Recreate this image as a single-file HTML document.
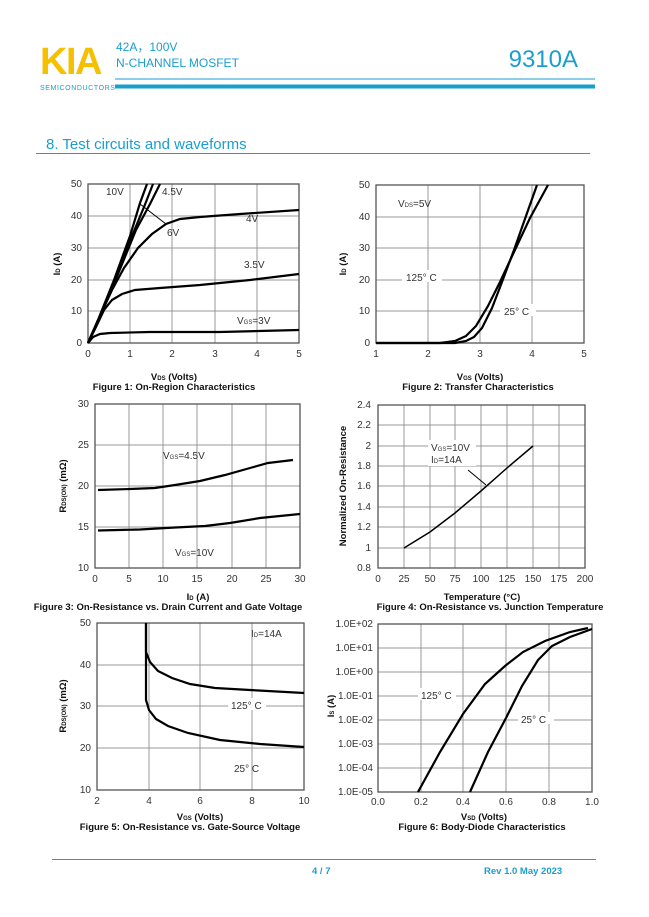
<!DOCTYPE html>
<html><head><meta charset="utf-8"><style>
body{margin:0;background:#fff;}
svg{display:block;font-family:"Liberation Sans",Arial,sans-serif;}
.g{stroke:#999;stroke-width:1;fill:none}
.f{stroke:#555;stroke-width:1.3;fill:none}
.c{stroke:#000;stroke-width:2.2;fill:none}
.t{font-size:10px;fill:#333}
.b{font-size:9.5px;font-weight:bold;fill:#111}
</style></head><body>
<svg width="649" height="917" viewBox="0 0 649 917">
<!-- header -->
<text x="40" y="74" font-size="38" font-weight="bold" fill="#f5c000" letter-spacing="-1.5">KIA</text>
<text x="40" y="90" font-size="7" fill="#1aa0d0" letter-spacing="0.6">SEMICONDUCTORS</text>
<text x="116" y="51" font-size="12" fill="#1a9ed0">42A，100V</text>
<text x="116" y="67" font-size="12" fill="#1a9ed0">N-CHANNEL MOSFET</text>
<text x="578" y="67" font-size="24" fill="#1a9ed0" text-anchor="end">9310A</text>
<line x1="115" y1="79" x2="595" y2="79" stroke="#1a9ed0" stroke-width="1"/>
<line x1="115" y1="86.5" x2="595" y2="86.5" stroke="#1a9ed0" stroke-width="4"/>
<text x="46" y="149" font-size="15" fill="#1a9ed0">8. Test circuits and waveforms</text>
<line x1="36" y1="153.5" x2="590" y2="153.5" stroke="#1a9ed0" stroke-width="1"/>
<!-- footer -->
<line x1="52" y1="859.5" x2="596" y2="859.5" stroke="#1a9ed0" stroke-width="1"/>
<text x="312" y="874" font-size="9.5" font-weight="bold" fill="#1a9ed0">4 / 7</text>
<text x="484" y="874" font-size="9.5" font-weight="bold" fill="#1a9ed0">Rev 1.0    May 2023</text>

<!-- Fig1 -->
<g>
<path class="g" d="M130 184V343M172 184V343M215 184V343M257 184V343M88 216H299M88 248H299M88 280H299M88 311H299"/>
<rect class="f" x="88" y="184" width="211" height="159"/>
<g class="t" text-anchor="end"><text x="82" y="187">50</text><text x="82" y="219">40</text><text x="82" y="251">30</text><text x="82" y="283">20</text><text x="82" y="314">10</text><text x="82" y="346">0</text></g>
<g class="t" text-anchor="middle"><text x="88" y="357">0</text><text x="130" y="357">1</text><text x="172" y="357">2</text><text x="215" y="357">3</text><text x="257" y="357">4</text><text x="299" y="357">5</text></g>
<path class="c" d="M88 343L98 320L114 280L130 236L140 203L147 184"/>
<path class="c" d="M88 343L99 318L116 276L132 236L144 207L153 184"/>
<path class="c" d="M88 343L100 316L118 274L136 230L150 204L160 184"/>
<path class="c" d="M88 343L100 316L112 290L124 268L138 248L152 234L166 224L180 219L200 217L240 214L299 210"/>
<path class="c" d="M88 343L96 327L104 310L112 300L122 294L135 290L160 288L200 285L250 280L299 274"/>
<path class="c" d="M88 343L93 337L100 334L110 333L150 332L220 332L299 330"/>
<line x1="140" y1="204" x2="166" y2="224" stroke="#000" stroke-width="1"/>
<text x="106" y="195" class="t">10V</text><text x="162" y="195" class="t">4.5V</text>
<text x="167" y="236" class="t">6V</text><text x="246" y="222" class="t">4V</text>
<text x="244" y="268" class="t">3.5V</text><text x="237" y="324" class="t">V<tspan font-size="6">GS</tspan>=3V</text>
<text x="-264" y="60" class="b" transform="rotate(-90)" text-anchor="middle">I<tspan font-size="6">D</tspan> (A)</text>
<text x="174" y="380" class="b" text-anchor="middle">V<tspan font-size="6">DS</tspan> (Volts)</text>
<text x="174" y="390" class="b" text-anchor="middle">Figure 1: On-Region Characteristics</text>
</g>

<!-- Fig2 -->
<g>
<path class="g" d="M428 185V343M480 185V343M532 185V343M376 217H584M376 248H584M376 280H584M376 311H584"/>
<rect class="f" x="376" y="185" width="208" height="158"/>
<g class="t" text-anchor="end"><text x="370" y="188">50</text><text x="370" y="220">40</text><text x="370" y="251">30</text><text x="370" y="283">20</text><text x="370" y="314">10</text><text x="370" y="346">0</text></g>
<g class="t" text-anchor="middle"><text x="376" y="357">1</text><text x="428" y="357">2</text><text x="480" y="357">3</text><text x="532" y="357">4</text><text x="584" y="357">5</text></g>
<rect x="402" y="270" width="40" height="12" fill="#fff"/><text x="406" y="281" class="t">125° C</text>
<rect x="500" y="304" width="36" height="12" fill="#fff"/><text x="504" y="315" class="t">25° C</text>
<text x="398" y="207" class="t">V<tspan font-size="6">DS</tspan>=5V</text>
<path class="c" d="M376 343L440 343L455 341L466 336L476 326L488 306L500 282L514 252L530 218L548 185"/>
<path class="c" d="M376 343L455 343L466 341L474 337L482 328L492 308L502 282L514 250L526 216L537 185"/>
<text x="-264" y="346" class="b" transform="rotate(-90)" text-anchor="middle">I<tspan font-size="6">D</tspan> (A)</text>
<text x="480" y="380" class="b" text-anchor="middle">V<tspan font-size="6">GS</tspan> (Volts)</text>
<text x="478" y="390" class="b" text-anchor="middle">Figure 2: Transfer Characteristics</text>
</g>

<!-- Fig3 -->
<g>
<path class="g" d="M129 404V568M163 404V568M197 404V568M232 404V568M266 404V568M95 445H300M95 486H300M95 527H300"/>
<rect class="f" x="95" y="404" width="205" height="164"/>
<g class="t" text-anchor="end"><text x="89" y="407">30</text><text x="89" y="448">25</text><text x="89" y="489">20</text><text x="89" y="530">15</text><text x="89" y="571">10</text></g>
<g class="t" text-anchor="middle"><text x="95" y="582">0</text><text x="129" y="582">5</text><text x="163" y="582">10</text><text x="197" y="582">15</text><text x="232" y="582">20</text><text x="266" y="582">25</text><text x="300" y="582">30</text></g>
<path class="c" d="M98 490L130 489L155 488L175 485L200 481L225 475L250 468L268 463L293 460"/>
<path class="c" d="M98 530.5L140 529.5L175 527.5L205 526L230 523L260 518L300 514"/>
<text x="163" y="459" class="t">V<tspan font-size="6">GS</tspan>=4.5V</text>
<text x="175" y="556" class="t">V<tspan font-size="6">GS</tspan>=10V</text>
<text x="-486" y="66" class="b" transform="rotate(-90)" text-anchor="middle">R<tspan font-size="6">DS(ON)</tspan> (mΩ)</text>
<text x="198" y="600" class="b" text-anchor="middle">I<tspan font-size="6">D</tspan> (A)</text>
<text x="168" y="610" class="b" text-anchor="middle">Figure 3: On-Resistance vs. Drain Current and Gate Voltage</text>
</g>

<!-- Fig4 -->
<g>
<path class="g" d="M404 405V568M430 405V568M455 405V568M481 405V568M507 405V568M533 405V568M559 405V568M378 425H585M378 446H585M378 466H585M378 486H585M378 507H585M378 527H585M378 548H585"/>
<rect class="f" x="378" y="405" width="207" height="163"/>
<g class="t" text-anchor="end"><text x="371" y="408">2.4</text><text x="371" y="428">2.2</text><text x="371" y="449">2</text><text x="371" y="469">1.8</text><text x="371" y="489">1.6</text><text x="371" y="510">1.4</text><text x="371" y="530">1.2</text><text x="371" y="551">1</text><text x="371" y="571">0.8</text></g>
<g class="t" text-anchor="middle"><text x="378" y="582">0</text><text x="404" y="582">25</text><text x="430" y="582">50</text><text x="455" y="582">75</text><text x="481" y="582">100</text><text x="507" y="582">125</text><text x="533" y="582">150</text><text x="559" y="582">175</text><text x="585" y="582">200</text></g>
<path stroke="#000" stroke-width="1.5" fill="none" d="M404 548L430 532L455 513L481 491L507 468L533 446"/>
<rect x="428" y="440" width="48" height="26" fill="#fff"/>
<text x="431" y="451" class="t">V<tspan font-size="6">GS</tspan>=10V</text>
<text x="431" y="463" class="t">I<tspan font-size="6">D</tspan>=14A</text>
<line x1="468" y1="470" x2="486" y2="485" stroke="#000"/>
<text x="-486" y="346" class="b" transform="rotate(-90)" text-anchor="middle">Normalized On-Resistance</text>
<text x="482" y="600" class="b" text-anchor="middle">Temperature (°C)</text>
<text x="490" y="610" class="b" text-anchor="middle">Figure 4: On-Resistance vs. Junction Temperature</text>
</g>

<!-- Fig5 -->
<g>
<path class="g" d="M149 623V790M200 623V790M252 623V790M97 665H304M97 706H304M97 748H304"/>
<rect class="f" x="97" y="623" width="207" height="167"/>
<g class="t" text-anchor="end"><text x="91" y="626">50</text><text x="91" y="668">40</text><text x="91" y="709">30</text><text x="91" y="751">20</text><text x="91" y="793">10</text></g>
<g class="t" text-anchor="middle"><text x="97" y="804">2</text><text x="149" y="804">4</text><text x="200" y="804">6</text><text x="252" y="804">8</text><text x="304" y="804">10</text></g>
<path class="c" d="M146 623L146 652L150 662L158 671L172 678L190 684L215 688L250 690L304 693"/>
<path class="c" d="M146 623L146 700L149 710L156 719L168 726L188 733L220 740L260 744L304 747"/>
<rect x="228" y="698" width="38" height="12" fill="#fff"/><text x="231" y="709" class="t">125° C</text>
<text x="234" y="772" class="t">25° C</text>
<text x="251" y="637" class="t">I<tspan font-size="6">D</tspan>=14A</text>
<text x="-706" y="66" class="b" transform="rotate(-90)" text-anchor="middle">R<tspan font-size="6">DS(ON)</tspan> (mΩ)</text>
<text x="200" y="820" class="b" text-anchor="middle">V<tspan font-size="6">GS</tspan> (Volts)</text>
<text x="190" y="830" class="b" text-anchor="middle">Figure 5: On-Resistance vs. Gate-Source Voltage</text>
</g>

<!-- Fig6 -->
<g>
<path class="g" d="M421 624V792M463 624V792M506 624V792M549 624V792M378 648H592M378 672H592M378 696H592M378 720H592M378 744H592M378 768H592"/>
<rect class="f" x="378" y="624" width="214" height="168"/>
<g class="t" text-anchor="end" font-size="9"><text x="373" y="627">1.0E+02</text><text x="373" y="651">1.0E+01</text><text x="373" y="675">1.0E+00</text><text x="373" y="699">1.0E-01</text><text x="373" y="723">1.0E-02</text><text x="373" y="747">1.0E-03</text><text x="373" y="771">1.0E-04</text><text x="373" y="795">1.0E-05</text></g>
<g class="t" text-anchor="middle"><text x="378" y="805">0.0</text><text x="421" y="805">0.2</text><text x="463" y="805">0.4</text><text x="506" y="805">0.6</text><text x="549" y="805">0.8</text><text x="592" y="805">1.0</text></g>
<rect x="418" y="688" width="38" height="12" fill="#fff"/><text x="421" y="699" class="t">125° C</text>
<rect x="518" y="712" width="36" height="12" fill="#fff"/><text x="521" y="723" class="t">25° C</text>
<path class="c" d="M418 792L440 752L463 714L485 684L505 666L523 652L545 641L570 632L588 628"/>
<path class="c" d="M470 792L488 752L506 718L522 686L538 660L552 646L570 637L592 629"/>
<text x="-706" y="334" class="b" transform="rotate(-90)" text-anchor="middle">I<tspan font-size="6">S</tspan> (A)</text>
<text x="484" y="820" class="b" text-anchor="middle">V<tspan font-size="6">SD</tspan> (Volts)</text>
<text x="482" y="830" class="b" text-anchor="middle">Figure 6: Body-Diode Characteristics</text>
</g>
</svg>
</body></html>
